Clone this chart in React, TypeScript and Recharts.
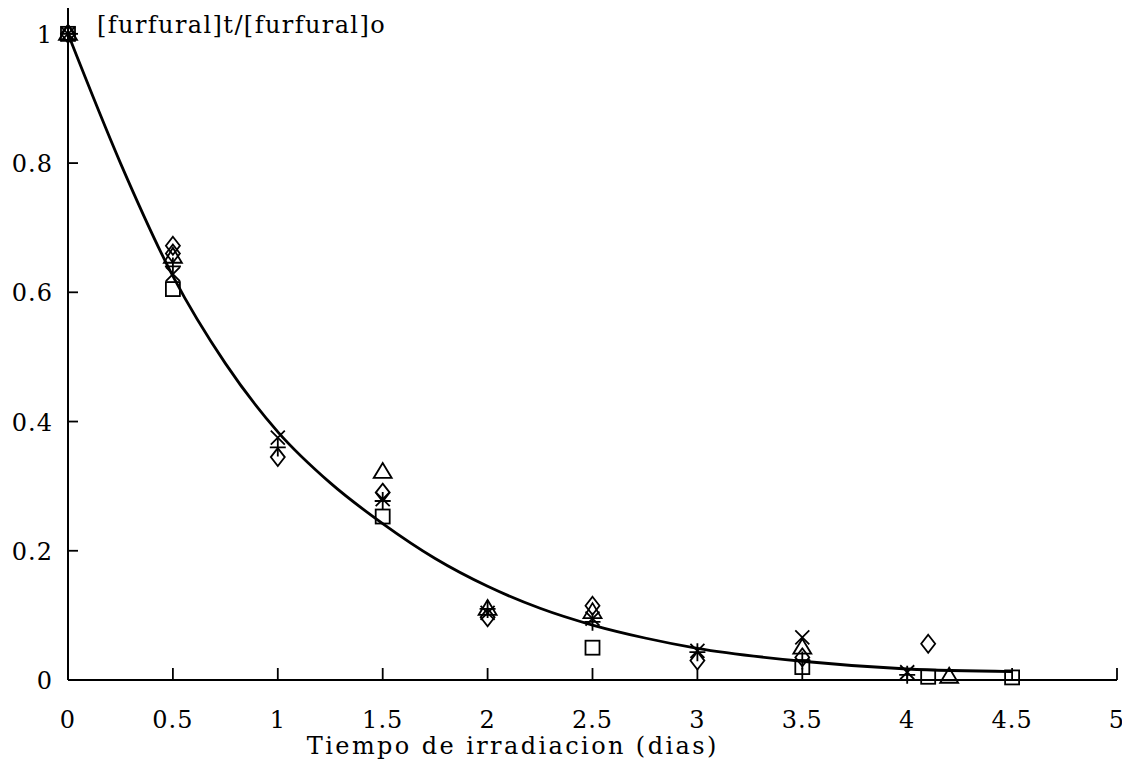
import React from "react";
import { ComposedChart, Line, Scatter, XAxis, YAxis } from "recharts";

// tick labels
const xTicks = [0, 0.5, 1, 1.5, 2, 2.5, 3, 3.5, 4, 4.5, 5];
const yTicks = [0, 0.2, 0.4, 0.6, 0.8, 1];

// fitted curve
const curveT = [0, 0.25, 0.5, 0.75, 1, 1.25, 1.5, 1.75, 2, 2.25, 2.5, 2.75, 3, 3.5, 4, 4.5];
const curveV = [1.0, 0.8, 0.625, 0.49, 0.384, 0.305, 0.242, 0.188, 0.145, 0.111, 0.085, 0.065, 0.049, 0.029, 0.017, 0.013];

// measured points per marker type
const squareT = [0, 0.5, 1.5, 2.5, 3.5, 4.1, 4.5];
const squareV = [1.0, 0.605, 0.253, 0.05, 0.02, 0.005, 0.004];
const diamondT = [0, 0.5, 0.5, 1, 1.5, 2, 2.5, 3, 3.5, 4.1];
const diamondV = [1.0, 0.672, 0.66, 0.345, 0.29, 0.097, 0.115, 0.03, 0.035, 0.056];
const triangleT = [0, 0.5, 1.5, 2, 2.5, 3.5, 4.2];
const triangleV = [1.0, 0.655, 0.322, 0.11, 0.105, 0.05, 0.005];
const plusT = [0, 0.5, 1, 1.5, 2, 2.5, 3, 3.5, 4];
const plusV = [1.0, 0.64, 0.36, 0.277, 0.11, 0.09, 0.043, 0.03, 0.008];
const crossT = [0, 0.5, 1, 1.5, 2, 2.5, 3, 3.5, 4];
const crossV = [1.0, 0.628, 0.375, 0.28, 0.104, 0.095, 0.045, 0.066, 0.012];

const zip = (t: number[], v: number[]) => t.map((x, i) => ({ x, y: v[i] }));

const curve = zip(curveT, curveV);
const squares = zip(squareT, squareV);
const diamonds = zip(diamondT, diamondV);
const triangles = zip(triangleT, triangleV);
const pluses = zip(plusT, plusV);
const crosses = zip(crossT, crossV);

const FONT = "'DejaVu Serif', 'Liberation Serif', serif";
const SW = 1.8;

const SquareShape = (p: any) => (
  <rect x={p.cx - 7} y={p.cy - 7} width={14} height={14} fill="none" stroke="#000" strokeWidth={SW} />
);
const DiamondShape = (p: any) => (
  <path d={`M${p.cx},${p.cy - 9}L${p.cx + 7},${p.cy}L${p.cx},${p.cy + 9}L${p.cx - 7},${p.cy}Z`} fill="none" stroke="#000" strokeWidth={SW} />
);
const TriangleShape = (p: any) => (
  <path d={`M${p.cx},${p.cy - 9}L${p.cx + 9},${p.cy + 6}L${p.cx - 9},${p.cy + 6}Z`} fill="none" stroke="#000" strokeWidth={SW} />
);
const PlusShape = (p: any) => (
  <path d={`M${p.cx - 8},${p.cy}L${p.cx + 8},${p.cy}M${p.cx},${p.cy - 9}L${p.cx},${p.cy + 9}`} fill="none" stroke="#000" strokeWidth={SW} />
);
const CrossShape = (p: any) => (
  <path d={`M${p.cx - 7},${p.cy - 7}L${p.cx + 7},${p.cy + 7}M${p.cx + 7},${p.cy - 7}L${p.cx - 7},${p.cy + 7}`} fill="none" stroke="#000" strokeWidth={SW} />
);

const fmt = (v: number) => String(v);

const XTick = (props: any) => {
  const { x, y, payload } = props;
  const v = payload.value;
  return (
    <g>
      {v !== 0 && <line x1={x} y1={y} x2={x} y2={y - 12} stroke="#000" strokeWidth={1.8} />}
      <text x={x} y={y + 48} textAnchor="middle" fontFamily={FONT} fontSize={24} letterSpacing={1} fill="#000">
        {fmt(v)}
      </text>
    </g>
  );
};

const YTick = (props: any) => {
  const { x, y, payload } = props;
  const v = payload.value;
  return (
    <g>
      {v !== 0 && <line x1={x} y1={y} x2={x + 10} y2={y} stroke="#000" strokeWidth={1.8} />}
      <text x={x - 15} y={y + 9} textAnchor="end" fontFamily={FONT} fontSize={24} letterSpacing={1} fill="#000">
        {fmt(v)}
      </text>
    </g>
  );
};

const XLabel = (props: any) => {
  const vb = props.viewBox;
  return (
    <text x={vb.x + vb.width * 0.424} y={vb.y + 74} textAnchor="middle" fontFamily={FONT} fontSize={24} letterSpacing={2.4} fill="#000">
      Tiempo de irradiacion (dias)
    </text>
  );
};

const YLabel = (props: any) => {
  const vb = props.viewBox;
  return (
    <text x={vb.x + vb.width + 29} y={vb.y + 25} textAnchor="start" fontFamily={FONT} fontSize={24} letterSpacing={1.4} fill="#000">
      [furfural]t/[furfural]o
    </text>
  );
};

export default function App() {
  return (
    <div style={{ width: 1122, height: 752, background: "#fff" }}>
      <ComposedChart width={1122} height={752} margin={{ top: 0, right: 13, bottom: 0, left: 0 }}>
        <XAxis
          type="number"
          dataKey="x"
          domain={[0, 5]}
          ticks={xTicks}
          interval={0}
          height={80}
          tickSize={0}
          tickMargin={0}
          tickLine={false}
          axisLine={{ stroke: "#000", strokeWidth: 2 }}
          tick={<XTick />}
          label={<XLabel />}
        />
        <YAxis
          type="number"
          dataKey="y"
          domain={[0, 1.04]}
          ticks={yTicks}
          interval={0}
          width={60}
          tickSize={0}
          tickMargin={0}
          tickLine={false}
          axisLine={{ stroke: "#000", strokeWidth: 2 }}
          tick={<YTick />}
          label={<YLabel />}
        />
        <Line data={curve} dataKey="y" type="monotone" dot={false} stroke="#000" strokeWidth={2.8} isAnimationActive={false} />
        <Scatter data={squares} shape={<SquareShape />} isAnimationActive={false} />
        <Scatter data={diamonds} shape={<DiamondShape />} isAnimationActive={false} />
        <Scatter data={triangles} shape={<TriangleShape />} isAnimationActive={false} />
        <Scatter data={pluses} shape={<PlusShape />} isAnimationActive={false} />
        <Scatter data={crosses} shape={<CrossShape />} isAnimationActive={false} />
      </ComposedChart>
    </div>
  );
}
